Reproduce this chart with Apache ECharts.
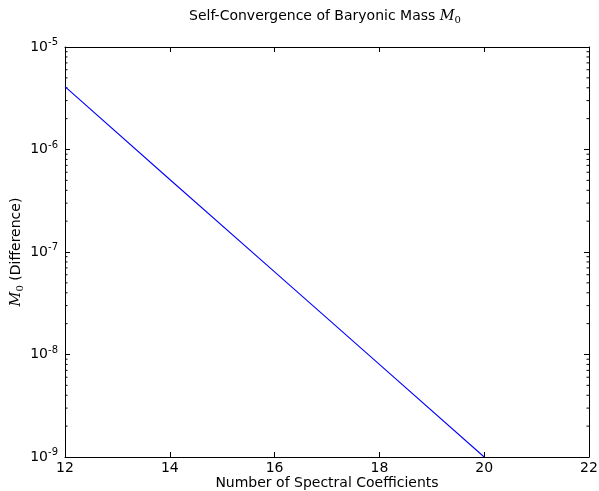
<!DOCTYPE html>
<html><head><meta charset="utf-8">
<script src="https://cdn.jsdelivr.net/npm/echarts@6/dist/echarts.min.js"></script>
<style>html,body{margin:0;padding:0;background:#fff}#c{width:599px;height:491px}</style>
</head><body><div id="c"></div>
<script>
var xValues = [12, 14, 16, 18, 20];
var massDiff = [4.1e-6, 5.1e-7, 6.4e-8, 8.0e-9, 1.0e-9];
var xTicks = [12, 14, 16, 18, 20, 22];
var decades = [1e-9, 1e-8, 1e-7, 1e-6, 1e-5];
var minorMultipliers = [2, 3, 4, 5, 6, 7, 8, 9];

var minorTicks = [];
for (var i = 0; i < decades.length - 1; i++) {
  for (var j = 0; j < minorMultipliers.length; j++) minorTicks.push([12, decades[i] * minorMultipliers[j]]);
}

var chart = echarts.init(document.getElementById('c'));
var font = 'DejaVu Sans';
function logLabel(v) {
  var e = Math.round(Math.log10(v));
  return '{a|10}{b|' + e + '}';
}
var richLab = {
  a: {fontFamily: font, fontSize: 14, color: '#000', fontWeight: 'normal'},
  b: {fontFamily: font, fontSize: 10, color: '#000', fontWeight: 'normal', padding: [0, 0, 9, 0]}
};
var mathRich = {
  t: {fontFamily: font, fontSize: 14, color: '#000', fontWeight: 'normal'},
  m: {fontFamily: 'DejaVu Serif', fontStyle: 'italic', fontSize: 14.5, color: '#000', fontWeight: 'normal'},
  s: {fontFamily: 'DejaVu Serif', fontSize: 10, color: '#000', fontWeight: 'normal', padding: [7, 0, 0, 0]}
};
chart.setOption({
  animation: false,
  title: {
    text: '{t|Self-Convergence of Baryonic Mass }{m|M}{s|0}',
    left: 320, top: 3, textAlign: 'center',
    textStyle: {fontWeight: 'normal', rich: mathRich}
  },
  grid: {left: 65, right: 10, top: 47, bottom: 34, containLabel: false, outerBoundsMode: 'none'},
  xAxis: [{
    type: 'value', min: 12, max: 22, interval: 2, position: 'bottom',
    name: 'Number of Spectral Coefficients', nameLocation: 'middle', nameGap: 19, nameMoveOverlap: false,
    nameTextStyle: {fontFamily: font, fontSize: 14, color: '#000'},
    axisLine: {show: true, onZero: false, lineStyle: {color: '#000', width: 1}},
    axisTick: {show: true, inside: true, length: 5, lineStyle: {color: '#000'}},
    axisLabel: {fontFamily: font, fontSize: 14, color: '#000', margin: 4},
    splitLine: {show: false}
  }, {
    type: 'value', min: 12, max: 22, interval: 2, position: 'top',
    axisLine: {show: true, onZero: false, lineStyle: {color: '#000', width: 1}},
    axisTick: {show: true, inside: true, length: 5, lineStyle: {color: '#000'}},
    axisLabel: {show: false}, splitLine: {show: false}
  }],
  yAxis: [{
    type: 'log', logBase: 10, min: 1e-9, max: 1e-5, position: 'left',
    name: '{m|M}{s|0}{t| (Difference)}', nameLocation: 'middle', nameGap: 40, nameRotate: 90, nameMoveOverlap: false,
    nameTextStyle: {rich: mathRich},
    axisLine: {show: true, onZero: false, lineStyle: {color: '#000', width: 1}},
    axisTick: {show: true, inside: true, length: 5, lineStyle: {color: '#000'}},
    axisLabel: {formatter: logLabel, rich: richLab, margin: 7},
    splitLine: {show: false}
  }, {
    type: 'log', logBase: 10, min: 1e-9, max: 1e-5, position: 'right',
    axisLine: {show: true, onZero: false, lineStyle: {color: '#000', width: 1}},
    axisTick: {show: true, inside: true, length: 5, lineStyle: {color: '#000'}},
    axisLabel: {show: false}, splitLine: {show: false}
  }],
  series: [{
    type: 'line', xAxisIndex: 0, yAxisIndex: 0,
    data: xValues.map(function (x, i) { return [x, massDiff[i]]; }),
    showSymbol: false, symbol: 'none',
    lineStyle: {color: '#0000ff', width: 1.1}, z: 5
  }, {
    type: 'custom', xAxisIndex: 0, yAxisIndex: 0,
    data: minorTicks, silent: true,
    renderItem: function (params, api) {
      var pL = api.coord([12, api.value(1)]);
      var pR = api.coord([22, api.value(1)]);
      return {type: 'group', children: [
        {type: 'line', shape: {x1: pL[0], y1: pL[1], x2: pL[0] + 2.5, y2: pL[1]}, style: {stroke: '#000', lineWidth: 1}},
        {type: 'line', shape: {x1: pR[0], y1: pR[1], x2: pR[0] - 2.5, y2: pR[1]}, style: {stroke: '#000', lineWidth: 1}}
      ]};
    }
  }]
});
</script></body></html>
